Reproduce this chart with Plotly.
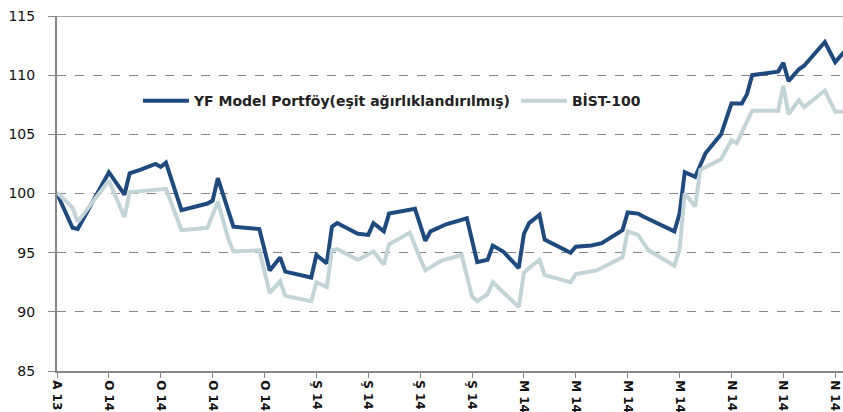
import plotly.graph_objects as go

# x positions in tenths of a tick interval (tick every 10 units)
yf_x = [0, 3, 4, 10, 13, 14, 16, 19, 20, 21, 24, 29, 30, 31, 34, 39, 41, 43, 44, 49,
        50, 52, 53, 54, 58, 60, 61, 63, 64, 69, 71, 72, 75, 79, 81, 83, 84, 86, 89, 90,
        91, 93, 94, 99, 100, 103, 105, 109, 110, 112, 113, 119, 120, 121, 123, 125, 128,
        130, 132, 133, 134, 139, 140, 141, 143, 144, 148, 150, 152]
yf_vals = [100.0, 97.1, 97.0, 101.8, 99.9, 101.7, 102.0, 102.5, 102.25, 102.6, 98.6, 99.15,
           99.4, 101.3, 97.2, 97.0, 93.5, 94.6, 93.4, 92.9, 94.8, 94.1, 97.2, 97.5, 96.6,
           96.5, 97.5, 96.8, 98.3, 98.7, 96.0, 96.8, 97.4, 97.9, 94.2, 94.4, 95.6, 95.1,
           93.7, 96.6, 97.5, 98.2, 96.1, 95.0, 95.5, 95.6, 95.8, 96.9, 98.4, 98.3, 98.05,
           96.8, 98.3, 101.8, 101.4, 103.4, 105.0, 107.6, 107.6, 108.4, 110.0, 110.3, 111.05,
           109.5, 110.5, 110.8, 112.8, 111.1, 112.1]

bist_x = [0, 3, 4, 10, 13, 14, 21, 24, 29, 31, 33, 34, 39, 41, 43, 44, 49, 50, 52, 53,
          54, 58, 61, 63, 64, 68, 70, 71, 74, 78, 80, 81, 83, 84, 89, 90, 91, 93, 94, 99,
          100, 104, 109, 110, 112, 114, 119, 120, 121, 123, 124, 128, 130, 131, 134, 139,
          140, 141, 143, 144, 148, 150, 152]
bist_vals = [100.1, 98.8, 97.6, 101.1, 98.0, 100.1, 100.4, 96.9, 97.1, 99.3, 96.2, 95.1,
             95.2, 91.6, 92.6, 91.35, 90.9, 92.5, 92.1, 95.2, 95.3, 94.4, 95.1, 94.0, 95.7,
             96.7, 94.5, 93.5, 94.3, 94.8, 91.3, 90.9, 91.5, 92.5, 90.4, 93.3, 93.7, 94.4,
             93.1, 92.5, 93.2, 93.5, 94.6, 96.8, 96.5, 95.2, 93.9, 95.3, 100.0, 98.9, 102.0,
             102.9, 104.5, 104.25, 107.0, 107.0, 109.1, 106.7, 107.9, 107.3, 108.7, 106.9,
             106.9]

tick_vals = [0, 10, 20, 30, 40, 50, 60, 70, 80, 90, 100, 110, 120, 130, 140, 150]
tick_text = ["A 13", "O 14", "O 14", "O 14", "O 14", "Ş 14", "Ş 14", "Ş 14", "Ş 14",
             "M 14", "M 14", "M 14", "M 14", "N 14", "N 14", "N 14"]

y_ticks = [85, 90, 95, 100, 105, 110, 115]

DARK = "#1f4a7f"
LIGHT = "#c3d4d6"
GRAY = "#868686"
FONT = "DejaVu Sans"

fig = go.Figure()
fig.add_trace(go.Scatter(x=yf_x, y=yf_vals, mode="lines",
                         name="YF Model Portföy(eşit ağırlıklandırılmış)",
                         line=dict(color=DARK, width=4)))
fig.add_trace(go.Scatter(x=bist_x, y=bist_vals, mode="lines", name="BİST-100",
                         line=dict(color=LIGHT, width=4)))

fig.add_shape(type="line", xref="paper", yref="y", x0=0, x1=1, y0=115, y1=115,
              line=dict(color=GRAY, width=1.5))

fig.update_layout(
    width=843, height=412,
    margin=dict(l=57, r=0, t=16, b=41, autoexpand=False),
    paper_bgcolor="white", plot_bgcolor="white",
    font=dict(family=FONT, size=12, color="#111"),
    showlegend=True,
    legend=dict(orientation="h", x=0.103, y=0.76, xanchor="left", yanchor="middle",
                font=dict(family=FONT, size=14, color="#222", weight="bold"),
                bgcolor="rgba(0,0,0,0)", traceorder="normal", itemwidth=46),
    xaxis=dict(range=[0, 151.5], tickmode="array", tickvals=tick_vals, ticktext=tick_text,
               tickangle=90, showgrid=False, zeroline=False, showline=True, automargin=False,
               linecolor=GRAY, linewidth=1.5, ticks="outside", ticklen=5, tickcolor=GRAY,
               tickfont=dict(family=FONT, size=12, color="#111", weight="bold")),
    yaxis=dict(range=[85, 115], tickmode="array", tickvals=y_ticks, showgrid=True,
               gridcolor=GRAY, griddash="dash", gridwidth=1, zeroline=False, automargin=False,
               showline=True, linecolor=GRAY, linewidth=2, ticks="outside", ticklen=7,
               tickcolor=GRAY, ticklabelstandoff=10,
               tickfont=dict(family=FONT, size=14, color="#111")),
)

fig.write_html("out.html", config={"displayModeBar": False},
               post_script="document.body.style.margin='0';")
